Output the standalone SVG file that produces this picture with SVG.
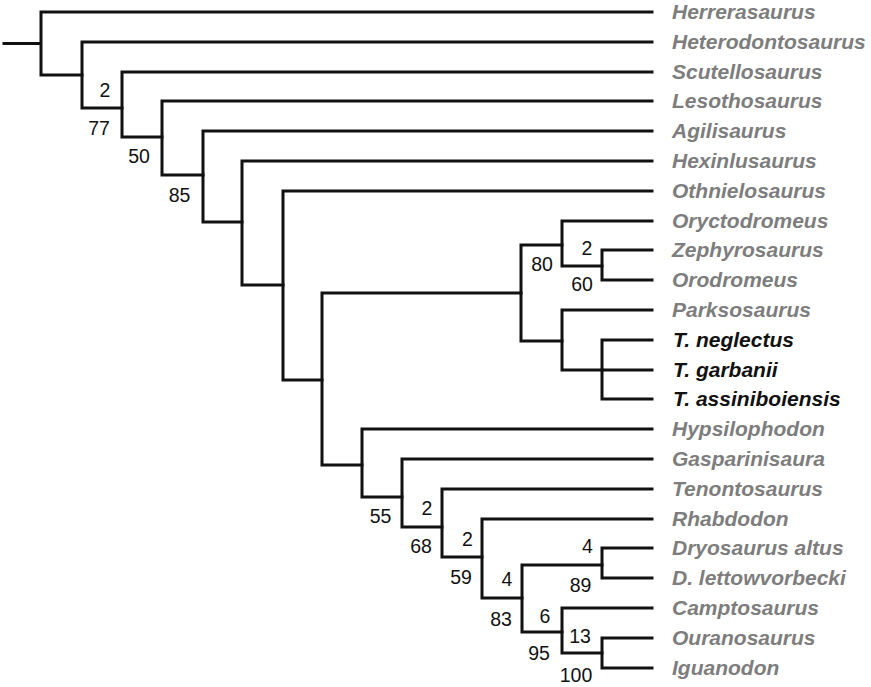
<svg xmlns="http://www.w3.org/2000/svg" width="871" height="687" viewBox="0 0 871 687">
<style>
.br{fill:none;stroke:#111;stroke-width:3;stroke-linecap:square;stroke-linejoin:miter}
.tx{font-family:"Liberation Sans",Arial,sans-serif;font-weight:bold;font-style:italic;font-size:21px;fill:#7d7d7d}
.tk{fill:#111}
.sv{font-family:"Liberation Sans",Arial,sans-serif;font-size:19.5px;fill:#111;text-anchor:middle}
</style>
<rect width="871" height="687" fill="#fff"/>
<g id="connectors" class="br">
<path d="M4,43.5H41M41,12V75M41,12H652M41,75H82"/>
<path d="M82,42V108M82,42H652M82,108H122"/>
<path d="M122,72V137M122,72H652M122,137H162"/>
<path d="M162,101V175M162,101H652M162,175H203"/>
<path d="M203,131V222M203,131H652M203,222H242"/>
<path d="M242,161V285M242,161H652M242,285H283"/>
<path d="M283,191V380M283,191H652M283,380H322"/>
<path d="M322,293V465M322,293H521M322,465H362"/>
<path d="M521,245V341M521,245H562M521,341H562"/>
<path d="M562,221V266M562,221H652M562,266H602"/>
<path d="M602,250V280M602,250H652M602,280H652"/>
<path d="M562,310V370M562,310H652M562,370H602"/>
<path d="M602,340V399M602,340H652M602,370H652M602,399H652"/>
<path d="M362,429V497M362,429H652M362,497H402"/>
<path d="M402,459V527M402,459H652M402,527H442"/>
<path d="M442,489V557M442,489H652M442,557H482"/>
<path d="M482,519V598M482,519H652M482,598H522"/>
<path d="M522,565V632M522,565H602M522,632H562"/>
<path d="M602,548V578M602,548H652M602,578H652"/>
<path d="M562,608V653M562,608H652M562,653H602"/>
<path d="M602,638V668M602,638H652M602,668H652"/>
</g>
<g id="support" class="sv">
<text x="105" y="97">2</text>
<text x="99" y="135">77</text>
<text x="139" y="163">50</text>
<text x="179.5" y="202">85</text>
<text x="542" y="271">80</text>
<text x="587" y="255">2</text>
<text x="582" y="291">60</text>
<text x="380.5" y="523">55</text>
<text x="427" y="515">2</text>
<text x="421" y="553">68</text>
<text x="467.5" y="546">2</text>
<text x="461" y="584">59</text>
<text x="507" y="586">4</text>
<text x="501" y="626">83</text>
<text x="587.5" y="553">4</text>
<text x="580.5" y="591.5">89</text>
<text x="545" y="622.5">6</text>
<text x="580" y="643">13</text>
<text x="539" y="660">95</text>
<text x="576" y="681.5">100</text>
</g>
<g id="taxa" class="tx">
<g id="herrerasaurus"><text x="672" y="19">Herrerasaurus</text></g>
<g id="heterodontosaurus"><text x="672" y="49">Heterodontosaurus</text></g>
<g id="scutellosaurus"><text x="672" y="79">Scutellosaurus</text></g>
<g id="lesothosaurus"><text x="672" y="108">Lesothosaurus</text></g>
<g id="agilisaurus"><text x="672" y="138">Agilisaurus</text></g>
<g id="hexinlusaurus"><text x="672" y="168">Hexinlusaurus</text></g>
<g id="othnielosaurus"><text x="672" y="198">Othnielosaurus</text></g>
<g id="oryctodromeus"><text x="672" y="228">Oryctodromeus</text></g>
<g id="zephyrosaurus"><text x="672" y="257">Zephyrosaurus</text></g>
<g id="orodromeus"><text x="672" y="287">Orodromeus</text></g>
<g id="parksosaurus"><text x="672" y="317">Parksosaurus</text></g>
<g id="t-neglectus"><text class="tk" x="673" y="347">T. neglectus</text></g>
<g id="t-garbanii"><text class="tk" x="673" y="377">T. garbanii</text></g>
<g id="t-assiniboiensis"><text class="tk" x="673" y="406">T. assiniboiensis</text></g>
<g id="hypsilophodon"><text x="672" y="436">Hypsilophodon</text></g>
<g id="gasparinisaura"><text x="672" y="466">Gasparinisaura</text></g>
<g id="tenontosaurus"><text x="672" y="496">Tenontosaurus</text></g>
<g id="rhabdodon"><text x="672" y="526">Rhabdodon</text></g>
<g id="dryosaurus-altus"><text x="672" y="555">Dryosaurus altus</text></g>
<g id="d-lettowvorbecki"><text x="672" y="585">D. lettowvorbecki</text></g>
<g id="camptosaurus"><text x="672" y="615">Camptosaurus</text></g>
<g id="ouranosaurus"><text x="672" y="645">Ouranosaurus</text></g>
<g id="iguanodon"><text x="672" y="675">Iguanodon</text></g>
</g>
</svg>
